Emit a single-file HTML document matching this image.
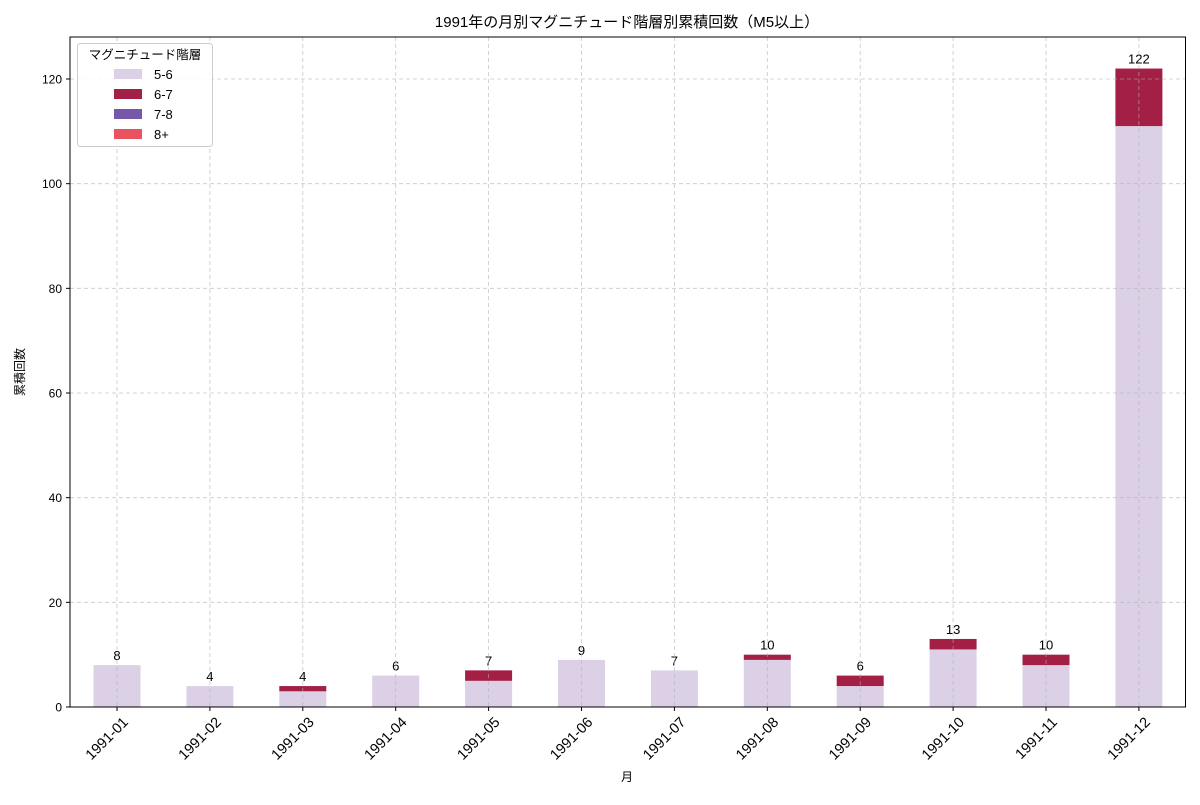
<!DOCTYPE html>
<html><head><meta charset="utf-8"><style>
body{margin:0;background:#fff}
svg{font-family:"Liberation Sans","Noto Sans CJK JP",sans-serif}
</style></head><body>
<svg id="s" width="1200" height="800" xmlns="http://www.w3.org/2000/svg">
<rect width="1200" height="800" fill="#fff"/>
<g id="bars"></g>
<g id="grid" stroke="#b0b0b0" stroke-opacity="0.7" stroke-dasharray="4,3" stroke-width="0.8"></g>
<g id="ax"></g>
<rect x="70" y="37" width="1115.5" height="670" fill="none" stroke="#000" stroke-width="1"/>
<text x="627" y="27" font-size="15" text-anchor="middle">1991年の月別マグニチュード階層別累積回数（M5以上）</text>
<text x="627" y="781" font-size="12" text-anchor="middle">月</text>
<text transform="translate(24,372) rotate(-90)" font-size="12" text-anchor="middle">累積回数</text>
<g>
<rect x="77.5" y="43.5" width="135" height="103" rx="3" fill="#fff" fill-opacity="0.85" stroke="#ccc"/>
<text x="145" y="59" font-size="12.5" text-anchor="middle">マグニチュード階層</text>
<rect x="114" y="69" width="28" height="10" fill="#dcd0e6"/><text x="154" y="79" font-size="13">5-6</text>
<rect x="114" y="89" width="28" height="10" fill="#a31f45"/><text x="154" y="99" font-size="13">6-7</text>
<rect x="114" y="109" width="28" height="10" fill="#7559a8"/><text x="154" y="119" font-size="13">7-8</text>
<rect x="114" y="129" width="28" height="10" fill="#e8535f"/><text x="154" y="139" font-size="13">8+</text>
</g>
</svg>
<script>
var a=[8,4,3,6,5,9,7,9,4,11,8,111],b=[0,0,1,0,2,0,0,1,2,2,2,11];
var ns="http://www.w3.org/2000/svg",k=5.2333,y0=707;
function el(p,t,at,tx){var e=document.createElementNS(ns,t);for(var q in at)e.setAttribute(q,at[q]);if(tx!=null)e.textContent=tx;document.getElementById(p).appendChild(e);}
for(var i=0;i<12;i++){var c=117+i*92.9;
el("bars","rect",{x:c-23.5,y:y0-a[i]*k,width:47,height:a[i]*k,fill:"#dcd0e6"});
if(b[i])el("bars","rect",{x:c-23.5,y:y0-(a[i]+b[i])*k,width:47,height:b[i]*k,fill:"#a31f45"});
el("bars","text",{x:c,y:y0-(a[i]+b[i])*k-5,"font-size":13,"text-anchor":"middle"},a[i]+b[i]);
el("grid","line",{x1:c,x2:c,y1:37,y2:707});
el("ax","line",{x1:c,x2:c,y1:707,y2:711,stroke:"#000"});
var m=("0"+(i+1)).slice(-2);
el("ax","text",{transform:"translate("+(c+12)+",723) rotate(-45)","font-size":14.5,"text-anchor":"end"},"1991-"+m);}
for(var v=0;v<=120;v+=20){var y=y0-v*k;
if(v>0)el("grid","line",{x1:70,x2:1185,y1:y,y2:y});
el("ax","line",{x1:66,x2:70,y1:y,y2:y,stroke:"#000"});
el("ax","text",{x:62,y:y+4.5,"font-size":12,"text-anchor":"end"},v);}
</script>
</body></html>
